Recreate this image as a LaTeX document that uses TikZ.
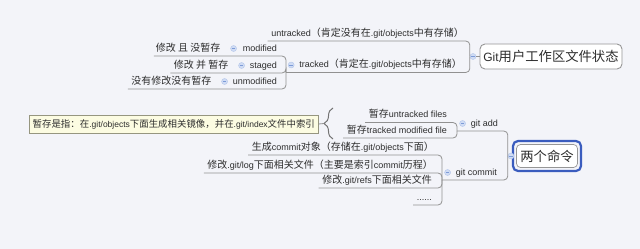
\documentclass[tikz,border=0pt]{standalone}
\usepackage{fontspec}
\setmainfont{Liberation Sans}
\newfontfamily\cjk[Scale=1.11]{Noto Sans CJK SC}
\newcommand\zh[1]{{\cjk #1}}
\usetikzlibrary{decorations.pathreplacing}

\definecolor{bg}{RGB}{243,244,249}
\definecolor{ink}{RGB}{45,45,45}
\definecolor{wire}{RGB}{145,145,145}
\definecolor{knobfill}{RGB}{208,220,244}
\definecolor{knobline}{RGB}{178,197,234}
\definecolor{knobbar}{RGB}{125,155,215}
\definecolor{selblue}{RGB}{58,92,190}
\definecolor{notefill}{RGB}{252,252,226}
\definecolor{noteline}{RGB}{150,150,128}
\definecolor{boxline}{RGB}{150,150,150}

\begin{document}
\begin{tikzpicture}[x=1pt,y=-1pt,
  item/.style={inner sep=0pt, text=ink, font=\fontsize{9}{11}\selectfont,
    text height=7pt, text depth=2pt, anchor=east},
  conn/.style={draw=wire, line width=0.8pt, rounded corners=4pt},
  knob/.style={circle, fill=knobfill, draw=knobline, line width=0.4pt,
    minimum size=6pt, inner sep=0pt,
    path picture={\draw[knobbar, line width=0.6pt]
      ([xshift=-1.7pt]path picture bounding box.center) --
      ([xshift=1.7pt]path picture bounding box.center);}},
  rootbox/.style={draw=boxline, line width=0.9pt, fill=white, rounded corners=5pt,
    text=ink, font=\fontsize{12}{14}\selectfont, inner sep=0pt},
  selbox/.style={draw=selblue, line width=2.2pt, rounded corners=5pt, inner sep=0pt},
  note/.style={draw=noteline, line width=0.6pt, fill=notefill, text=ink,
    font=\fontsize{8.5}{10}\selectfont, inner sep=0pt, anchor=west},
  bracewire/.style={draw=wire!80!black, line width=1pt,
    decorate, decoration={brace, amplitude=9pt}}
]
\fill[bg] (0,0) rectangle (640,249);
\useasboundingbox (0,0) rectangle (640,249);

% ---------- first map: working tree file states ----------
\node[rootbox, minimum width=142pt, minimum height=25pt] (root) at (551,56.5)
  {Git\zh{用户工作区文件状态}};
\node[knob] (rk) at (473,56.5) {};
\draw[conn] (rk) -- (root);

\node[item] (untr) at (464,33.5)
  {untracked\zh{（肯定没有在}.git/objects\zh{中有存储）}};
\node[item] (trk) at (462,65)
  {tracked\zh{（肯定在}.git/objects\zh{中有存储）}};
\node[knob] (trk-k) at ([xshift=-8pt]trk.west) {};

\node[item] (mod) at (277,48.5) {modified};
\node[item] (stg) at (277,65.5) {staged};
\node[item] (unm) at (277,81.5) {unmodified};
\node[knob] (mod-k) at ([xshift=-9pt]mod.west) {};
\node[knob] (stg-k) at ([xshift=-8pt]stg.west) {};
\node[knob] (unm-k) at ([xshift=-8pt]unm.west) {};
\node[item] (modl) at ([xshift=-22pt]mod.west) {\zh{修改 且 没暂存}};
\node[item] (stgl) at ([xshift=-21pt]stg.west) {\zh{修改 并 暂存}};
\node[item] (unml) at ([xshift=-21pt]unm.west) {\zh{没有修改没有暂存}};

\path (untr.west) ++(-3.5,7.5) coordinate (untr-s);
\coordinate (trk-s) at (286,72.5);
\path (modl.west) ++(-2,7.5) coordinate (mod-s);
\path (stgl.west) ++(-3.5,7.5) coordinate (stg-s);
\path (unml.west) ++(-3.5,7.5) coordinate (unm-s);

\draw[conn] (untr-s) -| (rk.west);
\draw[conn] (trk-s) -| (rk.west);
\draw[conn] (mod-s) -| (trk-s);
\draw[conn] (stg-s) -| (trk-s);
\draw[conn] (unm-s) -| (trk-s);

% ---------- second map: two commands ----------
\node[selbox, minimum width=68pt, minimum height=30pt] (cmdsel) at (547,156) {};
\node[rootbox, line width=0.7pt, rounded corners=4pt, minimum width=61pt,
  minimum height=23pt] (cmd) at (547,156) {\zh{两个命令}};
\node[knob] (rk2) at (511,156) {};

\node[item] (ga) at (498,123.5) {git add};
\node[knob] (ga-k) at ([xshift=-8pt]ga.west) {};
\node[item] (guf) at (447,115) {\zh{暂存}untracked files};
\node[item] (gtm) at (447,130.5) {\zh{暂存}tracked modified file};

\node[item] (gc) at (497,172.5) {git commit};
\node[knob] (gc-k) at ([xshift=-8pt]gc.west) {};
\node[item] (c1) at (434,147.5) {\zh{生成}commit\zh{对象（存储在}.git/objects\zh{下面）}};
\node[item] (c2) at (433,165.5) {\zh{修改}.git/log\zh{下面相关文件（主要是索引}commit\zh{历程）}};
\node[item] (c3) at (432,180.5) {\zh{修改}.git/refs\zh{下面相关文件}};
\node[item] (c4) at (432,197.5) {......};

\coordinate (ga-s) at (457,131);
\coordinate (gc-s) at (442,180);
\path (guf.west) ++(-3.5,7.5) coordinate (guf-s);
\path (gtm.west) ++(-3.5,7.5) coordinate (gtm-s);
\path (c1.west) ++(-3.5,7.5) coordinate (c1-s);
\path (c2.west) ++(-3.5,7.5) coordinate (c2-s);
\path (c3.west) ++(-3.5,7.5) coordinate (c3-s);
\path (c4.west) ++(-3.5,7.5) coordinate (c4-s);

\draw[conn] (ga-s) -| (rk2.west);
\draw[conn] (gc-s) -| (rk2.west);
\draw[conn] (guf-s) -| (ga-s);
\draw[conn] (gtm-s) -| (ga-s);
\draw[conn] (c1-s) -| (gc-s);
\draw[conn] (c2-s) -| (gc-s);
\draw[conn] (c3-s) -| (gc-s);
\draw[conn] (c4-s) -| (gc-s);

% ---------- note attached by a brace to the git add items ----------
\node[note, minimum width=289pt, minimum height=18pt] (nt) at (29,124)
  {\zh{暂存是指：在}.git/objects\zh{下面生成相关镜像，并在}.git/index\zh{文件中索引}};
\coordinate (br-lo) at (333,139);
\coordinate (br-hi) at (333,108);
\coordinate (br-tip) at (324,123.5);
\draw[bracewire] (br-lo) -- (br-hi);
\draw[draw=wire, line width=0.8pt] (nt.east) -- (br-tip);
\end{tikzpicture}
\end{document}
